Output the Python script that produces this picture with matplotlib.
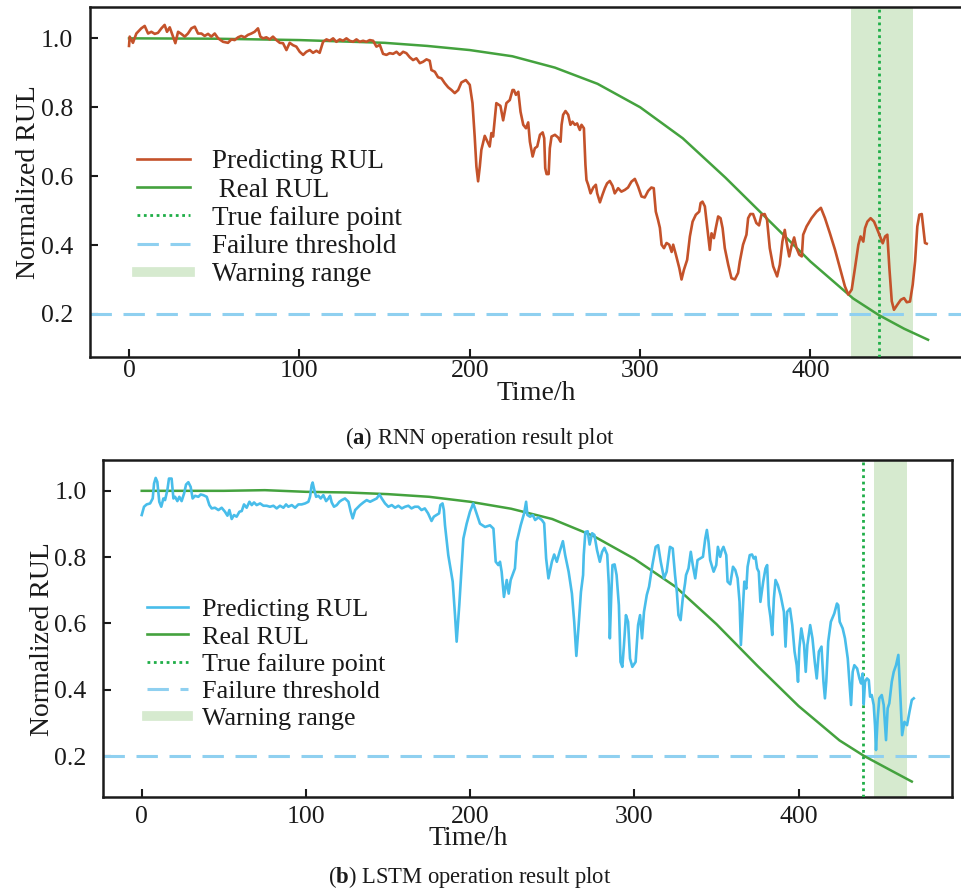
import numpy as np
import matplotlib
matplotlib.use("Agg")
import matplotlib.pyplot as plt
from matplotlib.lines import Line2D

plt.rcParams['font.family'] = ['Liberation Serif', 'DejaVu Serif']
plt.rcParams['mathtext.fontset'] = 'custom'
plt.rcParams['mathtext.rm'] = 'Liberation Serif'
plt.rcParams['mathtext.bf'] = 'Liberation Serif:bold'

# ---------------- data ----------------
ticks_x = [0, 100, 200, 300, 400]
ticks_y = [0.2, 0.4, 0.6, 0.8, 1.0]
threshold = 0.2

# (a) RNN
rnn_fail = 440
rnn_warn = (424, 460)
rnn_real_t = [0, 50, 100, 150, 175, 200, 225, 250, 275, 300, 325, 350, 375, 400, 425, 440, 455, 469]
rnn_real_v = [1.0, 0.999, 0.995, 0.987, 0.978, 0.966, 0.948, 0.915, 0.868, 0.800, 0.710, 0.596,
              0.474, 0.352, 0.245, 0.197, 0.157, 0.125]
rnn_pred = [
    (0, 0.978), (0.4, 1.005), (2.3, 0.987), (4.3, 1.014), (7.2, 1.029), (9.2, 1.036), (11.2, 1.014),
    (13.1, 1.019), (15.1, 1.013), (17, 1.016), (19, 1.029), (20.9, 1.039), (22.3, 1.019), (23.9, 1.032),
    (25.8, 1.005), (27.2, 0.986), (28.8, 1.019), (30.7, 1.013), (32.7, 1.005), (34.6, 1.014),
    (36.6, 1.029), (38.6, 1.034), (40.5, 1.014), (42.5, 1.014), (44.4, 1.007), (46.4, 1.013),
    (48.3, 1.005), (50.3, 1.014), (52.3, 1.0), (55.2, 0.990), (58.1, 0.987), (60.1, 0.997),
    (62, 0.995), (64, 1.003), (65.9, 1.007), (67.9, 1.003), (69.8, 1.010), (71.8, 1.014),
    (73.7, 1.019), (75.7, 1.029), (77.1, 1.005), (78.7, 1.0), (80.6, 1.003), (82.6, 0.997),
    (84.5, 1.005), (86.5, 0.995), (88.5, 0.987), (90.4, 0.986), (92.4, 0.966), (94.3, 0.987),
    (96.3, 0.980), (98.2, 0.976), (100.2, 0.961), (102.2, 0.952), (104.1, 0.961), (106.1, 0.966),
    (108, 0.958), (110, 0.964), (111.9, 0.958), (113.9, 0.990), (115.9, 0.997), (117.8, 0.993),
    (119.8, 1.0), (121.7, 0.990), (123.7, 0.997), (125.6, 0.993), (127.6, 1.0), (129.5, 0.993),
    (131.5, 0.990), (133.5, 0.997), (135.4, 0.990), (137.4, 0.993), (139.3, 0.990), (141.3, 0.995),
    (143.3, 0.993), (145.2, 0.976), (147.2, 0.981), (149.1, 0.955), (151.1, 0.952), (153, 0.957),
    (155, 0.955), (157, 0.961), (158.9, 0.952), (160.9, 0.961), (162.8, 0.957), (164.8, 0.945),
    (166.7, 0.937), (168.7, 0.942), (170.7, 0.928), (172.6, 0.932), (174.6, 0.939), (176.5, 0.935),
    (177.5, 0.908), (179.5, 0.903), (181.4, 0.887), (183.4, 0.884), (185.3, 0.870), (187.3, 0.858),
    (189.3, 0.850), (191.2, 0.841), (193.2, 0.850), (195.1, 0.872), (197.7, 0.879), (200, 0.865),
    (201.6, 0.812), (202.9, 0.715), (203.9, 0.628), (204.9, 0.585), (205.9, 0.628), (206.8, 0.676),
    (208.8, 0.717), (210.8, 0.696), (211.7, 0.686), (212.7, 0.725), (213.7, 0.715), (215.6, 0.812),
    (218, 0.804), (219.6, 0.762), (221.5, 0.812), (223.5, 0.821), (225.1, 0.850),
    (225.9, 0.850), (227.1, 0.836), (228.5, 0.845), (229.8, 0.787), (231.4, 0.749), (233, 0.739),
    (234.3, 0.756), (235.3, 0.700), (236.9, 0.657), (238.2, 0.681), (239.6, 0.686), (241.2, 0.720),
    (242.8, 0.727), (243.7, 0.710), (244.3, 0.623), (245.1, 0.606), (246.3, 0.606), (247, 0.681),
    (248, 0.715), (250, 0.720), (251.9, 0.712), (253.3, 0.700), (253.9, 0.749), (254.8, 0.778),
    (256.2, 0.789), (257.8, 0.778), (259.1, 0.749), (260.3, 0.758), (261.7, 0.749), (263, 0.753),
    (264.6, 0.734), (265.6, 0.749), (267, 0.739), (267.9, 0.633), (268.5, 0.589), (269.5, 0.575),
    (270.9, 0.550), (272.5, 0.567), (274, 0.575), (274.8, 0.550), (276.4, 0.524), (277.9, 0.546),
    (279.3, 0.565), (280.6, 0.579), (282.2, 0.586), (283.8, 0.572), (285.1, 0.550), (287.1, 0.565),
    (289, 0.555), (291, 0.560), (292.9, 0.567), (294.9, 0.584), (296.9, 0.592), (298.8, 0.570),
    (300.8, 0.541), (302.7, 0.538), (304.7, 0.557), (306.6, 0.567), (308, 0.565), (309.2, 0.497),
    (310.5, 0.473), (311.6, 0.450), (312.6, 0.401), (314, 0.391), (315.5, 0.406), (317.1, 0.401),
    (318.5, 0.380), (319.4, 0.401), (321, 0.372), (323, 0.333), (324.3, 0.300), (325.7, 0.328),
    (327.6, 0.357), (329.2, 0.425), (330.8, 0.468), (332.7, 0.488), (334.7, 0.497), (335.5, 0.522),
    (336.6, 0.526), (338, 0.512), (339, 0.468), (339.9, 0.430), (340.9, 0.386), (341.9, 0.434),
    (343.3, 0.420), (344.4, 0.449), (345.8, 0.483), (347.2, 0.478), (348.4, 0.449), (349.7, 0.391),
    (351.7, 0.343), (353.6, 0.304), (355.6, 0.300), (357.5, 0.319), (358.5, 0.352), (360.4, 0.401),
    (362.4, 0.430), (363.4, 0.478), (364.7, 0.490), (366.3, 0.490), (368.2, 0.464), (369.8, 0.457),
    (371.2, 0.488), (373.1, 0.490), (374.5, 0.473), (376.1, 0.391), (378.1, 0.338), (380.4, 0.309),
    (382, 0.343), (383.5, 0.410), (384.9, 0.444), (385.9, 0.410), (387.5, 0.367), (388.8, 0.396),
    (390.4, 0.422), (391.8, 0.391), (393.4, 0.372), (394.9, 0.367), (395.7, 0.430), (397.7, 0.454),
    (400.6, 0.478), (403.6, 0.497), (406.1, 0.508), (408.5, 0.478), (411.4, 0.434), (414.4, 0.386),
    (417.3, 0.333), (420.2, 0.280), (422.2, 0.256), (424.2, 0.271), (426.1, 0.333), (428.1, 0.401),
    (429.4, 0.425), (431, 0.410), (432, 0.449), (433.4, 0.468), (435.3, 0.478), (437.3, 0.468),
    (439.3, 0.444), (440.8, 0.425), (442.4, 0.405), (443.8, 0.425), (445.1, 0.430), (446.3, 0.333),
    (447.7, 0.237), (449, 0.212), (451, 0.227), (453, 0.241), (454.9, 0.246), (456.5, 0.234),
    (458.4, 0.236), (460, 0.285), (461.4, 0.353), (462.7, 0.454), (463.9, 0.488), (465.3, 0.490),
    (466.2, 0.449), (467.2, 0.406), (468.2, 0.404),
]

# (b) LSTM
lstm_fail = 439
lstm_warn = (446, 466)
lstm_real_t = [0, 50, 75, 100, 125, 150, 175, 200, 225, 250, 275, 300, 325, 350, 375, 400, 425, 440, 455, 469]
lstm_real_v = [1.0, 1.0, 1.002, 0.997, 0.995, 0.990, 0.982, 0.967, 0.946, 0.915, 0.864, 0.795,
               0.711, 0.598, 0.472, 0.351, 0.247, 0.200, 0.160, 0.123]
lstm_pred = [
    (0, 0.927), (1.4, 0.952), (3, 0.959), (5.1, 0.962), (6.7, 0.977), (7.5, 1.022), (8.5, 1.039),
    (9.5, 1.027), (10.7, 0.967), (11.9, 0.952), (13.2, 0.977), (14.2, 0.972), (15.6, 1.002),
    (16.6, 1.037), (18.2, 1.037), (19.3, 0.977), (20.3, 0.982), (21.7, 0.969), (22.9, 0.982),
    (24.3, 0.969), (25.8, 0.992), (27, 1.019), (28.4, 1.026), (29.8, 1.012), (31, 0.977),
    (32.5, 0.985), (34.5, 0.982), (35.9, 0.989), (37.5, 0.987), (39.6, 0.982), (41.2, 0.957),
    (42.6, 0.947), (44.6, 0.949), (46.7, 0.942), (48.7, 0.949), (50.7, 0.937), (52.2, 0.925),
    (53.4, 0.942), (54.8, 0.915), (56.2, 0.927), (57.8, 0.922), (59.5, 0.937), (60.9, 0.939),
    (62.3, 0.959), (63.9, 0.949), (65.6, 0.967), (67, 0.957), (68.4, 0.965), (70, 0.957),
    (72.1, 0.962), (74.1, 0.955), (76.1, 0.955), (78.1, 0.952), (80.2, 0.955), (82.2, 0.947),
    (84.2, 0.955), (86.3, 0.949), (87.9, 0.959), (89.3, 0.952), (91.4, 0.957), (93.4, 0.949),
    (95.4, 0.959), (97.4, 0.959), (99.5, 0.962), (101.5, 0.967), (102.5, 0.982), (103.5, 1.017),
    (104.1, 1.025), (104.9, 1.007), (106.2, 0.982), (107.6, 0.985), (109, 0.977), (110.6, 0.987),
    (112.3, 0.969), (113.7, 0.977), (114.7, 0.985), (115.7, 0.965), (117.1, 0.952), (118.8, 0.957),
    (120.4, 0.967), (121.8, 0.972), (123.8, 0.977), (125.9, 0.967), (127.3, 0.937), (128.5, 0.917),
    (130, 0.942), (131.4, 0.949), (133, 0.957), (135, 0.965), (137, 0.972), (139.1, 0.967),
    (141.1, 0.972), (143.1, 0.977), (144.8, 0.989), (146.2, 0.977), (148.2, 0.962), (150.2, 0.952),
    (152.3, 0.957), (154.3, 0.949), (156.3, 0.955), (158.4, 0.947), (160.4, 0.952), (162.4, 0.955),
    (164.3, 0.947), (166.3, 0.952), (168.4, 0.952), (170.4, 0.942), (172.4, 0.947), (174.4, 0.932),
    (176.5, 0.909), (177.9, 0.922), (179.5, 0.927), (181.1, 0.932), (181.9, 0.957), (183.2, 0.962),
    (184, 0.942), (184.7, 0.896), (186.7, 0.806), (189.4, 0.726), (190.8, 0.625), (191.8, 0.545),
    (193.4, 0.655), (194.9, 0.776), (195.9, 0.856), (197.9, 0.901), (199.9, 0.937), (201.9, 0.962),
    (203.6, 0.937), (206, 0.901), (209.1, 0.891), (212.1, 0.896), (214.2, 0.886), (215.6, 0.786),
    (217.2, 0.776), (218.2, 0.786), (219.2, 0.756), (220.6, 0.680), (222.3, 0.731), (223.5, 0.690),
    (224.7, 0.731), (227.3, 0.766), (228.4, 0.846), (230.8, 0.896), (232.9, 0.932), (234.1, 0.967),
    (234.9, 0.927), (236.5, 0.922), (238.2, 0.927), (239.6, 0.912), (241.6, 0.920), (243.7, 0.912),
    (245.1, 0.902), (246.3, 0.796), (247.7, 0.736), (249.8, 0.786), (251.2, 0.808), (252.8, 0.786),
    (254.5, 0.816), (256.5, 0.848), (257.9, 0.806), (260, 0.756), (262, 0.690), (263.4, 0.605),
    (264.7, 0.502), (266.1, 0.595), (267.5, 0.695), (268.8, 0.746), (269.2, 0.806), (270.2, 0.876),
    (271.6, 0.878), (272.8, 0.838), (274.3, 0.872), (275.7, 0.867), (277.3, 0.821), (279, 0.786),
    (280.4, 0.816), (281.8, 0.828), (283.5, 0.808), (284.5, 0.716), (285.1, 0.555), (285.9, 0.675),
    (286.7, 0.776), (288, 0.778), (289.2, 0.746), (290.6, 0.655), (291.6, 0.484), (292.7, 0.469),
    (293.7, 0.535), (294.9, 0.625), (296.2, 0.605), (297.4, 0.494), (298.8, 0.469), (300.8, 0.484),
    (302.3, 0.595), (303.5, 0.625), (304.7, 0.555), (305.9, 0.635), (307.6, 0.686), (309, 0.711),
    (311, 0.776), (313, 0.831), (314.5, 0.836), (316.1, 0.786), (318.1, 0.736), (319.7, 0.756),
    (321.7, 0.831), (323.4, 0.826), (324.8, 0.746), (325.9, 0.695), (326.9, 0.625), (328.2, 0.610),
    (329.5, 0.675), (330.9, 0.721), (331.5, 0.746), (333, 0.766), (334.4, 0.816), (335.6, 0.776),
    (337.1, 0.736), (338.5, 0.791), (340.1, 0.796), (341.8, 0.801), (343.2, 0.856), (344.2, 0.882),
    (345.2, 0.846), (346.2, 0.791), (348.3, 0.756), (349.9, 0.776), (350.9, 0.831), (352.3, 0.801),
    (353.3, 0.821), (354.3, 0.831), (356, 0.806), (356.8, 0.726), (358.4, 0.718), (360.1, 0.771),
    (361.5, 0.761), (362.9, 0.736), (364.1, 0.665), (364.9, 0.535), (366.2, 0.655), (367, 0.726),
    (368.2, 0.705), (369, 0.771), (370.3, 0.806), (371.7, 0.808), (372.7, 0.796), (373.8, 0.801),
    (374.8, 0.766), (375.8, 0.756), (376.8, 0.665), (378.5, 0.726), (379.9, 0.766), (380.9, 0.776),
    (381.9, 0.655), (382.9, 0.620), (384, 0.565), (385, 0.675), (386, 0.731), (387.4, 0.716),
    (389.1, 0.685), (391.1, 0.635), (392.1, 0.530), (393.1, 0.635), (394.8, 0.645), (396.2, 0.595),
    (397.6, 0.515), (398.9, 0.474), (399.7, 0.424), (400.5, 0.525), (401.7, 0.585), (403.4, 0.535),
    (404.4, 0.454), (405.4, 0.535), (407.1, 0.595), (408.5, 0.555), (409.9, 0.484), (411.1, 0.434),
    (412.4, 0.515), (414, 0.530), (415.2, 0.424), (416.1, 0.374), (416.9, 0.424), (418.1, 0.545),
    (419.7, 0.605), (421.8, 0.630), (423.4, 0.660), (424.2, 0.655), (425.1, 0.605), (426.9, 0.585),
    (428.3, 0.555), (430, 0.494), (431, 0.424), (432, 0.354), (433, 0.454), (434, 0.474),
    (435.7, 0.464), (437.1, 0.434), (438.1, 0.419), (439.1, 0.449), (439.7, 0.356), (440.5, 0.424),
    (441.7, 0.434), (442.8, 0.429), (443.6, 0.379), (444.6, 0.384), (445.8, 0.354), (446.6, 0.293),
    (447.2, 0.218), (448.2, 0.313), (449.2, 0.374), (450.7, 0.384), (451.9, 0.354), (453.3, 0.248),
    (454.3, 0.344), (455.3, 0.359), (456.8, 0.424), (458, 0.454), (459.4, 0.474), (460.8, 0.505),
    (462.1, 0.374), (463.1, 0.263), (464.5, 0.303), (466.1, 0.293), (467.6, 0.334), (469, 0.369),
    (470.2, 0.374),
]

labels_a = ["Predicting RUL", " Real RUL", "True failure point", "Failure threshold", "Warning range"]
labels_b = ["Predicting RUL", "Real RUL", "True failure point", "Failure threshold", "Warning range"]

# ---------------- styles ----------------
C_RNN = '#c4522a'
C_LSTM = '#48bdea'
C_REAL = '#44a23e'
C_FAIL = '#1fae48'
C_THR = '#8fd0f0'
C_WARN = '#d6eacf'

W, H = 962, 892
fig = plt.figure(figsize=(W / 100, H / 100), dpi=100)


def px_axes(l, t, r, b):
    return fig.add_axes([l / W, 1 - b / H, (r - l) / W, (b - t) / H])


def draw(ax, pred, real_t, real_v, fail, warn, pcolor, labels, xlim, ylim,
         leg_anchor, leg_fs, hlen, htp, lsp, xlab_xy, ylab_xy, xpad, ypad):
    ax.axvspan(warn[0], warn[1], color=C_WARN, lw=0, zorder=1)
    ax.axhline(threshold, color=C_THR, lw=2.2, ls=(0, (7, 3.8)), zorder=2)
    ax.axvline(fail, color=C_FAIL, lw=2.0, ls=(0, (1, 1.3)), zorder=3)
    ax.plot(real_t, real_v, color=C_REAL, lw=1.8, zorder=4)
    pt = [p[0] for p in pred]
    pv = [p[1] for p in pred]
    ax.plot(pt, pv, color=pcolor, lw=1.9, zorder=5)
    ax.set_xlim(*xlim)
    ax.set_ylim(*ylim)
    ax.set_xticks(ticks_x)
    ax.set_yticks(ticks_y)
    ax.set_yticklabels([f"{v:.1f}" for v in ticks_y])
    ax.tick_params(direction='in', length=6, width=1.5, labelsize=18.5, colors='#1a1a1a')
    ax.tick_params(axis='x', pad=xpad)
    ax.tick_params(axis='y', pad=ypad)
    for s in ax.spines.values():
        s.set_linewidth(1.8)
        s.set_color('#1a1a1a')
    ax.set_xlabel("Time/h", fontsize=20, color='#1a1a1a')
    ax.set_ylabel("Normalized RUL", fontsize=20, color='#1a1a1a')
    ax.xaxis.set_label_coords(*xlab_xy)
    ax.yaxis.set_label_coords(*ylab_xy)
    handles = [
        Line2D([], [], color=pcolor, lw=1.9),
        Line2D([], [], color=C_REAL, lw=1.9),
        Line2D([], [], color=C_FAIL, lw=2.0, ls=(0, (1, 1.3))),
        Line2D([], [], color=C_THR, lw=2.2, ls=(0, (7, 3.8))),
        Line2D([], [], color=C_WARN, lw=7),
    ]
    leg = ax.legend(handles, labels, loc='center left', bbox_to_anchor=leg_anchor,
                    frameon=False, fontsize=leg_fs, handlelength=hlen, handletextpad=htp,
                    labelspacing=lsp, borderpad=0, borderaxespad=0)
    for t in leg.get_texts():
        t.set_color('#1a1a1a')


ax1 = px_axes(90, 7, 964, 357)
draw(ax1, rnn_pred, rnn_real_t, rnn_real_v, rnn_fail, rnn_warn, C_RNN, labels_a,
     (-22.9, 490.1), (0.075, 1.091), (0.054, 0.396), 19.5, 1.95, 0.81, 0.12,
     (0.511, -0.07), (-0.056, 0.5), 2, 12)

ax2 = px_axes(103.3, 460, 951.7, 797.3)
draw(ax2, lstm_pred, lstm_real_t, lstm_real_v, lstm_fail, lstm_warn, C_LSTM, labels_b,
     (-23.4, 493.3), (0.0755, 1.093), (0.051, 0.395), 18.8, 1.59, 0.52, 0.15,
     (0.43, -0.086), (-0.057, 0.47), 6, 12)

fig.text(480 / W, 1 - 438 / H, r"($\mathbf{a}$) RNN operation result plot",
         ha='center', va='center', fontsize=16.3, color='#1a1a1a')
fig.text(470 / W, 1 - 877 / H, r"($\mathbf{b}$) LSTM operation result plot",
         ha='center', va='center', fontsize=16.3, color='#1a1a1a')

fig.savefig("out.png", dpi=100)
